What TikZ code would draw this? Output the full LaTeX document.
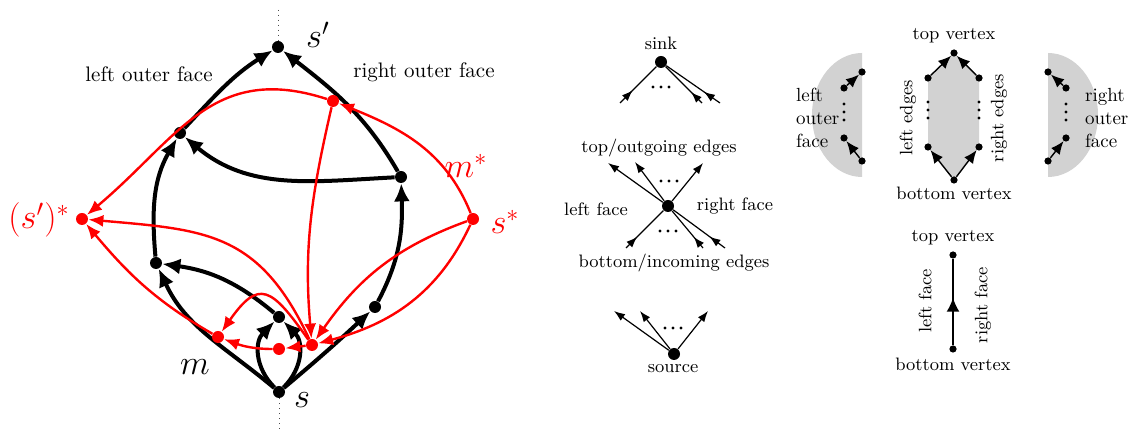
\documentclass[tikz,border=0pt]{standalone}
\usetikzlibrary{arrows.meta,decorations.markings}
\begin{document}
\begin{tikzpicture}[x=0.5pt,y=0.5pt,
  bdot/.style={circle,fill=black,inner sep=0pt,minimum size=6pt},
  rdot/.style={circle,fill=red,inner sep=0pt,minimum size=6pt},
  bedge/.style={line width=2pt,-{Latex[length=9pt,width=8pt]}},
  redge/.style={red,line width=1.2pt,-{Latex[length=7.5pt,width=6pt]}},
  mdot/.style={circle,fill=black,inner sep=0pt,minimum size=6pt},
  tdot/.style={circle,fill=black,inner sep=0pt,minimum size=3.6pt},
  tarrow/.style={line width=0.6pt,-{Latex[length=5.5pt,width=4pt]}},
  midarrow/.style={line width=0.6pt,postaction={decorate},decoration={markings,mark=at position #1 with {\arrow{Latex[length=5.5pt,width=4pt]}}}},
  bigmid/.style={line width=0.9pt,postaction={decorate},decoration={markings,mark=at position #1 with {\arrow{Latex[length=7pt,width=6.5pt]}}}},
  farrow/.style={line width=0.7pt,-{Latex[length=6.5pt,width=5.5pt]}},
  lbl/.style={font=\fontsize{10.5}{12}\selectfont},
  sm/.style={font=\fontsize{9}{11}\selectfont},
  big/.style={font=\LARGE},
  dotline/.style={dotted,line width=0.5pt,black!70},
]
\useasboundingbox (0,0) rectangle (1131,-432);

% ---------------- left diagram ----------------
\coordinate (top) at (278,-10);
\coordinate (bot) at (279,-432);
\node[bdot] (sp) at (278,-47) {};
\node[bdot] (A) at (180,-133) {};
\node[bdot] (B) at (401,-177) {};
\node[bdot] (C) at (156,-263) {};
\node[bdot] (D) at (279,-317) {};
\node[bdot] (E) at (375,-307) {};
\node[bdot] (s) at (279,-392) {};
\draw[dotline] (top) -- (sp);
\draw[dotline] (s) -- (bot);

\draw[bedge] (s) to[out=140,in=-65] (C);
\draw[bedge] (C) to[out=95,in=-120] (A);
\draw[bedge] (A) to[out=47,in=-148] (sp);
\draw[bedge] (s) to[out=40,in=-137] (E);
\draw[bedge] (E) to[out=62,in=-88] (B);
\draw[bedge] (B) to[out=120,in=-38] (sp);
\draw[bedge] (B) to[out=183,in=-40] (A);
\draw[bedge] (D) to[out=140,in=-8] (C);
\draw[bedge] (s) to[out=135,in=-135,looseness=1.1] (D);
\draw[bedge] (s) to[out=45,in=-45,looseness=1.1] (D);

\node[rdot] (R1) at (82,-219) {};
\node[rdot] (R2) at (473,-219) {};
\node[rdot] (M) at (333,-101) {};
\node[rdot] (P) at (218,-337) {};
\node[rdot] (Q) at (279,-349) {};
\node[rdot] (T) at (312,-345) {};

\draw[redge] (R2) to[out=112,in=-22] (M);
\draw[redge] (M) to[out=162,in=40,looseness=1.15] (R1);
\draw[redge] (M) to[out=-103,in=95] (T);
\draw[redge] (R2) to[out=200,in=55] (T);
\draw[redge] (R2) to[out=-115,in=15] (T);
\draw[redge] (T) to[out=115,in=-5,looseness=1.2] (R1);
\draw[redge] (T) -- (Q);
\draw[redge] (Q) to[out=180,in=-20] (P);
\draw[redge] (T) to[out=125,in=55,looseness=1.9] (P);
\draw[redge] (P) to[out=150,in=-50] (R1);

\node[big] (lsp) at (318,-35) {$s'$};
\node[big] (ls) at (302,-400) {$s$};
\node[big] (lm) at (195,-367) {$m$};
\node[big,red] (lR1) at (39,-220) {$(s')^*$};
\node[big,red] (lR2) at (505,-222) {$s^*$};
\node[big,red] (lM) at (466,-166) {$m^*$};
\node[lbl] (lof) at (149,-74) {left outer face};
\node[lbl] (rof) at (424,-72) {right outer face};

% ---------------- middle legend ----------------
\node[mdot] (snk) at (661,-62) {};
\node[sm] (snkl) at (661,-43) {sink};
\coordinate (k1) at (620,-103);
\coordinate (k2) at (702,-103);
\coordinate (k3) at (720,-103);
\draw[midarrow=0.35] (k1) -- (snk);
\draw[midarrow=0.3] (k2) -- (snk);
\draw[midarrow=0.3] (k3) -- (snk);
\foreach \i in {-8,0,8} \fill (661+\i,-87) circle[radius=1.6];

\node[mdot] (xv) at (668,-206) {};
\coordinate (o1) at (608,-163);
\coordinate (o2) at (635,-162);
\coordinate (o3) at (703,-163);
\coordinate (i1) at (626,-248);
\coordinate (i2) at (703,-248);
\coordinate (i3) at (725,-248);
\draw[tarrow] (xv) -- (o1);
\draw[tarrow] (xv) -- (o2);
\draw[tarrow] (xv) -- (o3);
\draw[midarrow=0.3] (i1) -- (xv);
\draw[midarrow=0.3] (i2) -- (xv);
\draw[midarrow=0.3] (i3) -- (xv);
\foreach \i in {-8,0,8} \fill (669+\i,-181) circle[radius=1.6];
\foreach \i in {-8,0,8} \fill (668+\i,-231) circle[radius=1.6];
\node[sm] (xtop) at (659,-148) {top/outgoing edges};
\node[sm] (xlf) at (596,-209) {left face};
\node[sm] (xrf) at (735,-206) {right face};
\node[sm] (xbot) at (674,-263) {bottom/incoming edges};

\node[mdot] (src) at (674,-354) {};
\node[sm] (srcl) at (673,-369) {source};
\coordinate (u1) at (614,-311);
\coordinate (u2) at (640,-311);
\coordinate (u3) at (708,-311);
\draw[tarrow] (src) -- (u1);
\draw[tarrow] (src) -- (u2);
\draw[tarrow] (src) -- (u3);
\foreach \i in {-8,0,8} \fill (673+\i,-328) circle[radius=1.6];

% ---------------- right legend ----------------
% face
\coordinate (cTV) at (954,-53);
\coordinate (cLT) at (928,-78);
\coordinate (cRT) at (979,-78);
\coordinate (cLB) at (928,-147);
\coordinate (cRB) at (979,-147);
\coordinate (cBV) at (954,-180);
\fill[gray!35] (cTV) -- (cRT) -- (cRB) -- (cBV) -- (cLB) -- (cLT) -- cycle;
\node[tdot] (TV) at (cTV) {};
\node[tdot] (LT) at (cLT) {};
\node[tdot] (RT) at (cRT) {};
\node[tdot] (LB) at (cLB) {};
\node[tdot] (RB) at (cRB) {};
\node[tdot] (BV) at (cBV) {};
\draw[farrow] (LT) -- (TV);
\draw[farrow] (RT) -- (TV);
\draw[farrow] (BV) -- (LB);
\draw[farrow] (BV) -- (RB);
\foreach \j in {102,110,118} {\fill (928,-\j) circle[radius=1.6]; \fill (979,-\j) circle[radius=1.6];}
\node[sm] (tvl) at (954,-36) {top vertex};
\node[sm] (bvl) at (954,-193) {bottom vertex};
\node[sm,rotate=90] (lel) at (908,-118) {left edges};
\node[sm,rotate=90] (rel) at (999,-118) {right edges};

% left outer face
\fill[gray!35] (862,-53) arc[start angle=90,end angle=270,x radius=50,y radius=62] -- cycle;
\node[tdot] (a1) at (862,-72) {};
\node[tdot] (a2) at (844,-88) {};
\node[tdot] (a3) at (844,-138) {};
\node[tdot] (a4) at (862,-161) {};
\draw[farrow] (a2) -- (a1);
\draw[farrow] (a4) -- (a3);
\foreach \j in {104,112,120} \fill (844,-\j) circle[radius=1.6];
\node[font=\fontsize{9.5}{11.5}\selectfont,align=left,anchor=west] (alab) at (789,-118) {left\\outer\\face};

% right outer face
\fill[gray!35] (1048,-53) arc[start angle=90,end angle=-90,x radius=50,y radius=62] -- cycle;
\node[tdot] (b1) at (1048,-72) {};
\node[tdot] (b2) at (1066,-88) {};
\node[tdot] (b3) at (1066,-138) {};
\node[tdot] (b4) at (1048,-161) {};
\draw[farrow] (b2) -- (b1);
\draw[farrow] (b4) -- (b3);
\foreach \j in {104,112,120} \fill (1066,-\j) circle[radius=1.6];
\node[font=\fontsize{9.5}{11.5}\selectfont,align=left,anchor=west] (blab) at (1078,-118) {right\\outer\\face};

% edge
\node[tdot] (ET) at (953,-255) {};
\node[tdot] (EB) at (953,-349) {};
\draw[bigmid=0.55] (EB) -- (ET);
\node[sm] (etl) at (953,-238) {top vertex};
\node[sm] (ebl) at (953,-364) {bottom vertex};
\node[sm,rotate=90] (elf) at (925,-301) {left face};
\node[sm,rotate=90] (erf) at (983,-305) {right face};
\end{tikzpicture}
\end{document}
